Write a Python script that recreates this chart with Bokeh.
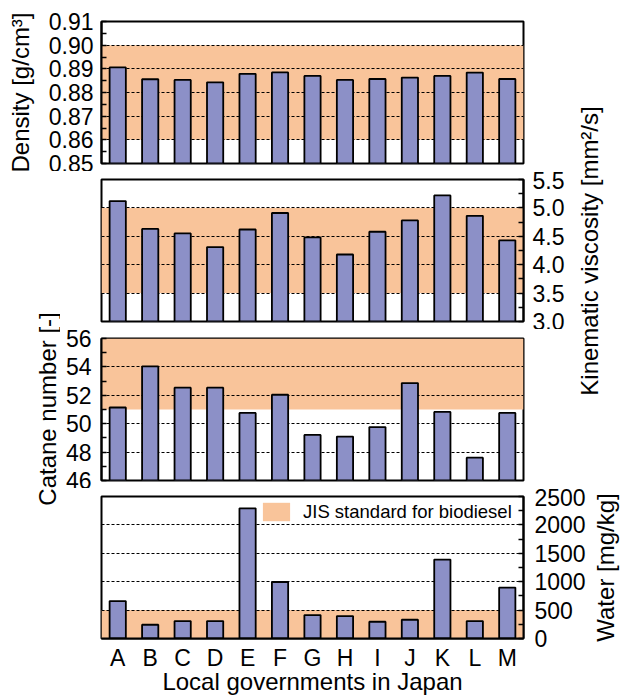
from bokeh.plotting import figure
from bokeh.models import (Range1d, FactorRange, FixedTicker, NumeralTickFormatter,
                          BoxAnnotation, Legend, LegendItem, GridBox)
from bokeh.embed import file_html
from bokeh.resources import INLINE

# ---------------- data ----------------
CATS = ["A", "B", "C", "D", "E", "F", "G", "H", "I", "J", "K", "L", "M"]
DENSITY = [0.8906, 0.8856, 0.8853, 0.8843, 0.8879, 0.8885, 0.8870,
           0.8853, 0.8857, 0.8863, 0.8870, 0.8884, 0.8857]
VISCOSITY = [5.12, 4.63, 4.55, 4.31, 4.62, 4.91, 4.48,
             4.18, 4.58, 4.78, 5.22, 4.86, 4.43]
CETANE = [51.14, 54.04, 52.54, 52.54, 50.76, 52.04, 49.21,
          49.09, 49.76, 52.86, 50.83, 47.61, 50.76]
WATER = [659, 242, 306, 306, 2291, 995, 412,
         394, 295, 330, 1390, 306, 896]

DENS_TICKS = [0.85, 0.86, 0.87, 0.88, 0.89, 0.90, 0.91]
DENS_MINOR = [0.855, 0.865, 0.875, 0.885, 0.895, 0.905]
VISC_TICKS = [3.0, 3.5, 4.0, 4.5, 5.0, 5.5]
VISC_MINOR = [3.25, 3.75, 4.25, 4.75, 5.25]
CET_TICKS = [46, 48, 50, 52, 54, 56]
CET_MINOR = [47, 49, 51, 53, 55]
WATER_TICKS = [0, 500, 1000, 1500, 2000, 2500]
WATER_MINOR = [250, 750, 1250, 1750, 2250]

JIS_DENSITY = [0.86, 0.90]
JIS_VISCOSITY = [3.5, 5.0]
JIS_CETANE = [51, None]
JIS_WATER = [0, 500]

LEGEND_TEXT = "JIS standard for biodiesel"
X_TITLE = "Local governments in Japan"
Y_TITLES = ["Density [g/cm\u00b3]", "Kinematic viscosity [mm\u00b2/s]",
            "Catane number [-]", "Water [mg/kg]"]

# ---------------- style / layout ----------------
FONT = "Liberation Sans"
BAR = "#8C90C7"
JIS = "#F9C49A"
TICK_FS = "23px"
TITLE_FS = "24px"

ROWS = [171, 158, 159, 212]
COLS = [60, 512, 16, 32]
FRAME_W, FRAME_H = 422, 142
FRAME_LEFT = 101


def panel(values, ticks, minor, fmt, jis, side, width, height,
          b_left, b_top, b_bottom, standoff, xaxis=False, band_box=True):
    p = figure(x_range=FactorRange(*CATS), y_range=Range1d(ticks[0], ticks[-1]),
               width=width, height=height, title=None,
               min_border_left=b_left, min_border_right=width - b_left - FRAME_W,
               min_border_top=b_top, min_border_bottom=b_bottom,
               x_axis_location="below" if xaxis else None,
               y_axis_location=side, toolbar_location=None,
               output_backend="svg", outline_line_color="black",
               outline_line_width=2, background_fill_color="white",
               border_fill_color="white")
    if band_box:
        p.add_layout(BoxAnnotation(bottom=jis[0], top=jis[1], fill_color=JIS,
                                   fill_alpha=1, line_color=None, level="image"))
    p.vbar(x=CATS, top=values, bottom=0, width=0.5, fill_color=BAR,
           line_color="black", line_width=1.8)
    p.xgrid.visible = False
    p.ygrid.grid_line_color = "black"
    p.ygrid.grid_line_dash = "3 2"
    p.ygrid.grid_line_width = 1.1
    p.ygrid.ticker = FixedTicker(ticks=ticks)
    ax = p.yaxis[0]
    ax.ticker = FixedTicker(ticks=ticks, minor_ticks=minor)
    ax.formatter = NumeralTickFormatter(format=fmt)
    ax.major_label_text_font = FONT
    ax.major_label_text_font_size = TICK_FS
    ax.major_label_text_color = "black"
    ax.major_label_standoff = standoff
    ax.major_tick_in = 5
    ax.major_tick_out = 0
    ax.minor_tick_in = 5
    ax.minor_tick_out = 0
    ax.major_tick_line_width = 1.5
    ax.minor_tick_line_width = 1.5
    ax.axis_line_width = 2
    ax.axis_label_text_font = FONT
    ax.axis_label_text_font_size = TITLE_FS
    ax.axis_label_text_font_style = "normal"
    ax.axis_label_text_color = "black"
    if xaxis:
        xa = p.xaxis[0]
        xa.major_label_text_font = FONT
        xa.major_label_text_font_size = TICK_FS
        xa.major_label_text_color = "black"
        xa.major_label_standoff = 6
        xa.major_tick_in = 0
        xa.major_tick_out = 0
        xa.axis_line_width = 2
        xa.axis_label = X_TITLE
        xa.axis_label_text_font = FONT
        xa.axis_label_text_font_size = TITLE_FS
        xa.axis_label_text_font_style = "normal"
        xa.axis_label_text_color = "black"
        xa.axis_label_standoff = -6
    return p


p1 = panel(DENSITY, DENS_TICKS, DENS_MINOR, "0.00", JIS_DENSITY, "left",
           COLS[0] + COLS[1], ROWS[0], FRAME_LEFT, 21, ROWS[0] - 21 - FRAME_H, 8)
p1.yaxis[0].axis_label = Y_TITLES[0]
p1.yaxis[0].axis_label_standoff = 12

inner_left = FRAME_LEFT - COLS[0]
p2 = panel(VISCOSITY, VISC_TICKS, VISC_MINOR, "0.0", JIS_VISCOSITY, "right",
           COLS[1], ROWS[1], inner_left, 8, ROWS[1] - 8 - FRAME_H, 9)
p3 = panel(CETANE, CET_TICKS, CET_MINOR, "0", JIS_CETANE, "left",
           COLS[1], ROWS[2], inner_left, 9, ROWS[2] - 9 - FRAME_H, 10)
p4 = panel(WATER, WATER_TICKS, WATER_MINOR, "0", JIS_WATER, "right",
           COLS[1] + COLS[2], ROWS[3], inner_left, 8, ROWS[3] - 8 - FRAME_H, 11,
           xaxis=True, band_box=False)

# JIS band of the water panel drawn as a glyph, so that the legend can use it
band = p4.quad(left=[(CATS[0], -0.5)], right=[(CATS[-1], 0.5)],
               bottom=[JIS_WATER[0]], top=[JIS_WATER[1]],
               fill_color=JIS, line_color=None, level="image")
legend = Legend(items=[LegendItem(label=LEGEND_TEXT, renderers=[band])],
                location=(158, 115), glyph_width=34, glyph_height=23,
                label_standoff=10, padding=0, margin=0, spacing=0,
                label_height=23, border_line_color=None,
                background_fill_color="white", background_fill_alpha=1,
                label_text_font=FONT, label_text_font_size="18.5px",
                label_text_color="black")
p4.add_layout(legend)


def title_fig(width, height, text, b_left, b_top, b_bottom):
    f = figure(width=width, height=height, title=None,
               x_range=Range1d(0, 1), y_range=Range1d(0, 1),
               x_axis_location=None, y_axis_location="left",
               toolbar_location=None, output_backend="svg",
               min_border_left=b_left, min_border_right=0,
               min_border_top=b_top, min_border_bottom=b_bottom,
               outline_line_color=None, border_fill_color="white",
               background_fill_color="white")
    f.xgrid.visible = False
    f.ygrid.visible = False
    ax = f.yaxis[0]
    ax.ticker = FixedTicker(ticks=[])
    ax.major_tick_in = 0
    ax.major_tick_out = 0
    ax.minor_tick_in = 0
    ax.minor_tick_out = 0
    ax.major_label_standoff = 0
    ax.axis_line_color = None
    ax.axis_label = text
    ax.axis_label_standoff = 0
    ax.axis_label_text_font = FONT
    ax.axis_label_text_font_size = TITLE_FS
    ax.axis_label_text_font_style = "normal"
    ax.axis_label_text_color = "black"
    return f


# Kinematic viscosity title: rows 0-2, centred on panel 2's frame
hR = ROWS[0] + ROWS[1] + ROWS[2]
topR = 2 * (ROWS[0] + 8 + FRAME_H // 2) - hR
labR = title_fig(COLS[2] + COLS[3], hR, Y_TITLES[1], 29, max(topR, 0), max(-topR, 0))
# Catane number title: rows 1-3, centred on panel 3's frame
hL = ROWS[1] + ROWS[2] + ROWS[3]
cL = ROWS[1] + 9 + FRAME_H // 2
labL = title_fig(COLS[0], hL, Y_TITLES[2], 55, 0, hL - 2 * cL)
# Water title: row 3, same frame as panel 4
labW = title_fig(COLS[3], ROWS[3], Y_TITLES[3], 28, 8, ROWS[3] - 8 - FRAME_H)

grid = GridBox(children=[(p1, 0, 0, 1, 2), (p2, 1, 1), (p3, 2, 1),
                         (p4, 3, 1, 1, 2), (labL, 1, 0, 3, 1),
                         (labR, 0, 2, 3, 2), (labW, 3, 3)],
               rows=[f"{r}px" for r in ROWS], cols=[f"{c}px" for c in COLS],
               spacing=0)

open("out.html", "w").write(file_html(grid, INLINE))
